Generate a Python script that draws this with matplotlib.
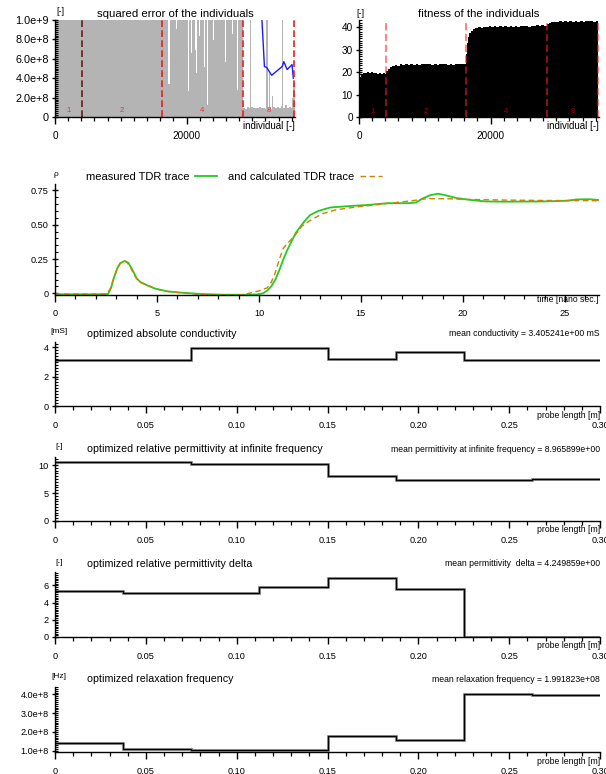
import numpy as np
import matplotlib
matplotlib.use('Agg')
import matplotlib.pyplot as plt
from matplotlib.ticker import MultipleLocator, FuncFormatter

plt.rcParams['font.family'] = ['Liberation Sans', 'DejaVu Sans']

W, H = 606, 774

# ---------------- data ----------------
# stage boundaries (individuals) and stage names
stage_bounds = [4100, 16200, 28600, 36400]
stage_names = ['1', '2', '4', '8']

# squared error of the individuals, piecewise runs (start, value); 2e9 = off scale
err_x = [0, 17250, 17430, 18380, 18530, 18800, 18920, 20200, 20360, 20620, 20760,
         21230, 21370, 21500, 21620, 21840, 21980, 22620, 22800, 23150, 23290,
         23650, 23790, 24060, 24200, 25180, 25320, 25880, 26050, 26390, 26530,
         26900, 27040, 27460, 27600, 27720, 27860,
         28600, 28900, 29200, 29500, 29700, 29850, 30100, 30400, 30700, 31000,
         31300, 31600, 31900, 32150, 32350, 32550, 32680, 32900, 33050, 33170,
         33500, 33800, 34100, 34350, 34520, 34700, 35000, 35300, 35600, 35850,
         36000, 36150, 36300, 36500]
err_y = [2e9, 0.34e9, 2e9, 0.91e9, 2e9, 0.60e9, 2e9, 0.27e9, 2e9, 0.66e9, 2e9,
         0.69e9, 2e9, 0.45e9, 2e9, 0.83e9, 2e9, 0.52e9, 2e9, 0.12e9, 2e9,
         0.90e9, 2e9, 0.79e9, 2e9, 0.66e9, 2e9, 0.57e9, 2e9, 0.23e9, 2e9,
         0.86e9, 2e9, 0.95e9, 2e9, 0.28e9, 2e9,
         0.095e9, 0.085e9, 0.10e9, 0.09e9, 2e9, 0.105e9, 0.088e9, 0.097e9, 0.09e9, 0.102e9,
         0.088e9, 0.095e9, 0.085e9, 2e9, 0.09e9, 0.46e9, 0.10e9, 0.087e9, 0.22e9, 0.098e9,
         0.09e9, 0.10e9, 0.092e9, 0.11e9, 2e9, 0.095e9, 0.12e9, 0.09e9, 0.10e9, 0.095e9,
         0.20e9, 0.35e9, 0.36e9, 0.36e9]

# best squared error (blue line)
best_x = [31000, 31850, 32200, 32950, 34550, 34800, 35300, 36050, 36250]
best_err = [1.6e9, 0.52e9, 0.51e9, 0.43e9, 0.52e9, 0.57e9, 0.49e9, 0.54e9, 0.40e9]

# fitness of the individuals, upper envelope runs (start, value)
fit_x = [0, 100, 200, 350, 600, 900, 1200, 1500, 1800, 2100, 2400, 2700, 3000, 3300, 3600, 3900,
         4100, 4400, 4700, 5000, 5400, 5800, 6200, 6600, 7000, 7400, 7800, 8200, 8600, 9000,
         9400, 9800, 10200, 10600, 11000, 11400, 11800, 12200, 12600, 13000, 13400, 13800,
         14200, 14600, 15000, 15400, 15800,
         16200, 16400, 16600, 16800, 17000, 17300, 17700, 18100, 18500, 18900, 19300, 19700,
         20100, 20500, 20900, 21300, 21700, 22100, 22500, 22900, 23300, 23700, 24100, 24500,
         24900, 25300, 25700, 26100, 26500, 26900, 27300, 27700, 28100,
         28600, 28900, 29200, 29600, 30000, 30400, 30800, 31200, 31600, 32000, 32400, 32800,
         33200, 33600, 34000, 34400, 34800, 35200, 35600, 36000, 36400]
fit_y = [12.0, 15.5, 17.5, 19.0, 19.8, 19.5, 20.0, 19.6, 19.9, 19.4, 19.7, 19.3, 19.6, 19.2, 19.5, 19.1,
         20.6, 21.6, 22.4, 22.8, 23.2, 22.9, 23.4, 23.1, 23.5, 23.2, 23.6, 23.3, 23.6, 23.2,
         23.5, 23.8, 23.4, 23.7, 23.3, 23.6, 23.3, 23.7, 23.4, 23.6, 23.2, 23.5,
         23.3, 23.6, 23.4, 23.7, 23.5,
         28.0, 33.0, 35.5, 37.3, 38.5, 39.2, 39.7, 40.1, 39.8, 40.3, 40.0, 40.4,
         40.1, 40.5, 40.2, 40.6, 40.3, 40.5, 40.2, 40.6, 40.3, 40.5, 40.2, 40.6,
         40.4, 40.7, 40.3, 40.6, 40.4, 40.8, 40.5, 40.8, 40.6,
         41.5, 41.9, 42.1, 42.4, 42.2, 42.6, 42.3, 42.7, 42.4, 42.8, 42.5, 42.7,
         42.4, 42.8, 42.5, 42.9, 42.6, 42.8, 42.5, 42.9, 42.7]

# TDR traces
meas_t = [0, 2.0, 2.6, 2.75, 2.9, 3.05, 3.2, 3.4, 3.6, 3.8, 4.0, 4.2, 4.5, 4.9, 5.5, 6.2,
          7.2, 8.3, 9.5, 9.9, 10.2, 10.4, 10.6, 10.8, 11.0, 11.2, 11.4, 11.6, 11.8, 12.0,
          12.2, 12.5, 12.9, 13.5, 14.4, 15.4, 16.3, 17.3, 17.7, 18.0, 18.4, 18.8, 19.2,
          19.7, 20.3, 21.1, 22.0, 24.0, 25.1, 25.6, 26.2, 26.67]
meas_rho = [-0.007, -0.007, -0.005, 0.04, 0.12, 0.18, 0.22, 0.236, 0.222, 0.17, 0.11, 0.08,
            0.06, 0.035, 0.015, 0.005, -0.005, -0.01, -0.01, -0.008, 0.0, 0.02, 0.05, 0.10,
            0.17, 0.25, 0.32, 0.38, 0.44, 0.48, 0.52, 0.57, 0.60, 0.626, 0.636, 0.645, 0.657,
            0.657, 0.662, 0.69, 0.716, 0.726, 0.713, 0.694, 0.682, 0.67, 0.668, 0.67, 0.675,
            0.685, 0.686, 0.68]
calc_t = [0, 2.5, 2.7, 2.9, 3.1, 3.3, 3.5, 3.7, 3.9, 4.1, 4.5, 5.0, 5.6, 6.5, 7.5, 8.5, 9.2,
          9.5, 10.0, 10.4, 10.6, 10.8, 11.0, 11.2, 11.5, 11.8, 12.1, 12.5, 13.1, 13.8, 14.8,
          16.3, 17.5, 18.2, 19.2, 20.1, 22.0, 24.0, 26.67]
calc_rho = [-0.005, -0.005, 0.03, 0.12, 0.20, 0.235, 0.232, 0.19, 0.13, 0.09, 0.06, 0.03,
            0.012, 0.0, -0.01, -0.015, -0.01, 0.0, 0.018, 0.04, 0.08, 0.15, 0.25, 0.33, 0.38,
            0.43, 0.49, 0.53, 0.58, 0.61, 0.63, 0.655, 0.675, 0.69, 0.69, 0.685, 0.68, 0.677,
            0.675]

# optimized profiles along the probe
probe_edges = [0, 0.0375, 0.075, 0.1125, 0.15, 0.1875, 0.225, 0.2625, 0.30]
conductivity = [3.13, 3.13, 3.93, 3.95, 3.16, 3.68, 3.13, 3.13]
perm_inf = [10.55, 10.55, 10.2, 10.2, 8.1, 7.3, 7.4, 7.45]
perm_delta = [5.41, 5.09, 5.09, 5.87, 6.89, 5.56, 0.05, 0.05]
relax_freq = [1.42e8, 1.09e8, 1.05e8, 1.04e8, 1.78e8, 1.55e8, 4.02e8, 3.97e8]


# ---------------- helpers ----------------
def rect(l, t, r, b):
    return [l / W, 1 - b / H, (r - l) / W, (b - t) / H]


def ftext(x, y, s, **kw):
    kw.setdefault('va', 'center')
    fig.text(x / W, 1 - y / H, s, **kw)


def sci(v, pos):
    if v == 0:
        return '0'
    e = int(np.floor(np.log10(abs(v)) + 1e-9))
    return '%.1fe+%d' % (v / 10 ** e, e)


def dec2(v, pos):
    return '0' if abs(v) < 1e-9 else '%.2f' % v


def plain(v, pos):
    return '%d' % round(v)


def style(ax, fs=6.6, xpad=5.6):
    for s in ['top', 'right']:
        ax.spines[s].set_visible(False)
    for s in ['left', 'bottom']:
        ax.spines[s].set_linewidth(1.0)
    ax.tick_params(axis='x', which='major', direction='out', length=5, width=1, pad=xpad, labelsize=fs)
    ax.tick_params(axis='x', which='minor', direction='out', length=3.2, width=0.9)
    ax.tick_params(axis='y', which='major', direction='inout', length=5, width=1, pad=2, labelsize=fs)
    ax.tick_params(axis='y', which='minor', direction='in', length=2.2, width=0.8)
    ax.patch.set_alpha(0)


fig = plt.figure(figsize=(W / 100, H / 100), dpi=100)

# ---------------- squared error ----------------
ax = fig.add_axes(rect(55, 20, 295, 117))
ax.fill_between(err_x, err_y, step='post', color='#b4b4b4', lw=0)
ax.plot(best_x, best_err, color='#1a1aff', lw=1)
for i, b in enumerate(stage_bounds):
    ax.axvline(b, color='#6a1a1a' if i == 0 else '#ee1c1c', lw=1.2, ls=(0, (4, 2)))
edges = [0] + stage_bounds
for i, name in enumerate(stage_names):
    ax.text((edges[i] + edges[i + 1]) / 2, 0.07e9, name, color='#ee3030', fontsize=5.5,
            ha='center', va='center')
ax.set_xlim(0, 36500)
ax.set_ylim(0, 1e9)
ax.xaxis.set_major_locator(MultipleLocator(20000))
ax.xaxis.set_minor_locator(MultipleLocator(2000))
ax.yaxis.set_major_locator(MultipleLocator(2e8))
ax.yaxis.set_minor_locator(MultipleLocator(2e7))
ax.yaxis.set_major_formatter(FuncFormatter(sci))
ax.xaxis.set_major_formatter(FuncFormatter(plain))
style(ax, 7.2, 5.2)
ax.tick_params(axis='y', labelsize=7.8)
ftext(175, 14, 'squared error of the individuals', ha='center', fontsize=8.2)
ftext(60, 12, '[-]', ha='center', fontsize=6.5)
ftext(295, 126, 'individual [-]', ha='right', fontsize=7)

# ---------------- fitness ----------------
ax = fig.add_axes(rect(359, 20, 599, 117))
ax.fill_between(fit_x, fit_y, step='post', color='black', lw=0)
for b in stage_bounds:
    ax.axvline(b, color='#ff2020', alpha=0.6, lw=1.3, ls=(0, (4, 2)))
for i, name in enumerate(stage_names):
    ax.text((edges[i] + edges[i + 1]) / 2, 2.5, name, color='#b00000', fontsize=5.5,
            ha='center', va='center')
ax.set_xlim(0, 36500)
ax.set_ylim(0, 43.2)
ax.xaxis.set_major_locator(MultipleLocator(20000))
ax.xaxis.set_minor_locator(MultipleLocator(2000))
ax.yaxis.set_major_locator(MultipleLocator(10))
ax.yaxis.set_minor_locator(MultipleLocator(1))
ax.xaxis.set_major_formatter(FuncFormatter(plain))
style(ax, 7.2, 5.2)
ftext(479, 14, 'fitness of the individuals', ha='center', fontsize=8.2)
ftext(360, 13, '[-]', ha='center', fontsize=6.5)
ftext(599, 126, 'individual [-]', ha='right', fontsize=7)

# ---------------- TDR traces ----------------
ax = fig.add_axes(rect(55, 184, 599, 295))
l1, = ax.plot(meas_t, meas_rho, color='#22cc22', lw=1.3)
l2, = ax.plot(calc_t, calc_rho, color='#d08000', lw=1.0, ls=(0, (4, 2.5)))
ax.set_xlim(0, 26.67)
ax.set_ylim(-0.012, 0.797)
ax.xaxis.set_major_locator(MultipleLocator(5))
ax.xaxis.set_minor_locator(MultipleLocator(1))
ax.yaxis.set_major_locator(MultipleLocator(0.25))
ax.yaxis.set_minor_locator(MultipleLocator(0.05))
ax.yaxis.set_major_formatter(FuncFormatter(dec2))
ax.xaxis.set_major_formatter(FuncFormatter(plain))
style(ax, 6.6, 5.4)
fig.legend([l1, l2], ['measured TDR trace', 'and calculated TDR trace'], ncol=2,
           markerfirst=False, frameon=False, fontsize=8, handlelength=2.0,
           handletextpad=0.5, columnspacing=1.0, borderpad=0, borderaxespad=0,
           loc='center left', bbox_to_anchor=(86 / W, 1 - 177 / H))
ftext(56, 175, 'ρ', ha='center', fontsize=6)
ftext(598, 299, 'time [nano sec.]', ha='right', fontsize=6.2)

# ---------------- optimized profiles ----------------
panels = [
    (rect(55, 342, 600, 406), conductivity, (0, 4.34), 2, 0.2, None, '[mS]',
     'optimized absolute conductivity', 'mean conductivity = 3.405241e+00 mS'),
    (rect(55, 457, 600, 521), perm_inf, (0, 11.44), 5, 0.5, None, '[-]',
     'optimized relative permittivity at infinite frequency',
     'mean permittivity at infinite frequency = 8.965899e+00'),
    (rect(55, 572, 600, 637), perm_delta, (0, 7.57), 2, 0.2, None, '[-]',
     'optimized relative permittivity delta', 'mean permittivity  delta = 4.249859e+00'),
    (rect(55, 687, 600, 752), relax_freq, (0.93e8, 4.4e8), 1e8, 1e7, sci, '[Hz]',
     'optimized relaxation frequency', 'mean relaxation frequency = 1.991823e+08'),
]

for r, vals, ylim, major, minor, yfmt, unit, title, mean_txt in panels:
    ax = fig.add_axes(r)
    ax.stairs(vals, probe_edges, baseline=None, color='#8a8a8a', lw=2.0)
    ax.stairs(vals, probe_edges, baseline=None, color='black', lw=0.9)
    ax.set_xlim(0, 0.30)
    ax.set_ylim(*ylim)
    ax.xaxis.set_major_locator(MultipleLocator(0.05))
    ax.xaxis.set_minor_locator(MultipleLocator(0.01))
    ax.yaxis.set_major_locator(MultipleLocator(major))
    ax.yaxis.set_minor_locator(MultipleLocator(minor))
    ax.xaxis.set_major_formatter(FuncFormatter(dec2))
    if yfmt is not None:
        ax.yaxis.set_major_formatter(FuncFormatter(yfmt))
    style(ax, 6.6, 5.8)
    top = (1 - r[1] - r[3]) * H
    bottom = (1 - r[1]) * H
    ftext(59, top - 10, unit, ha='center', fontsize=6)
    ftext(87, top - 8, title, ha='left', fontsize=7.7)
    ftext(600, top - 8, mean_txt, ha='right', fontsize=6.2)
    ftext(600, bottom + 9, 'probe length [m]', ha='right', fontsize=6.2)

fig.savefig('out.png', dpi=100)
